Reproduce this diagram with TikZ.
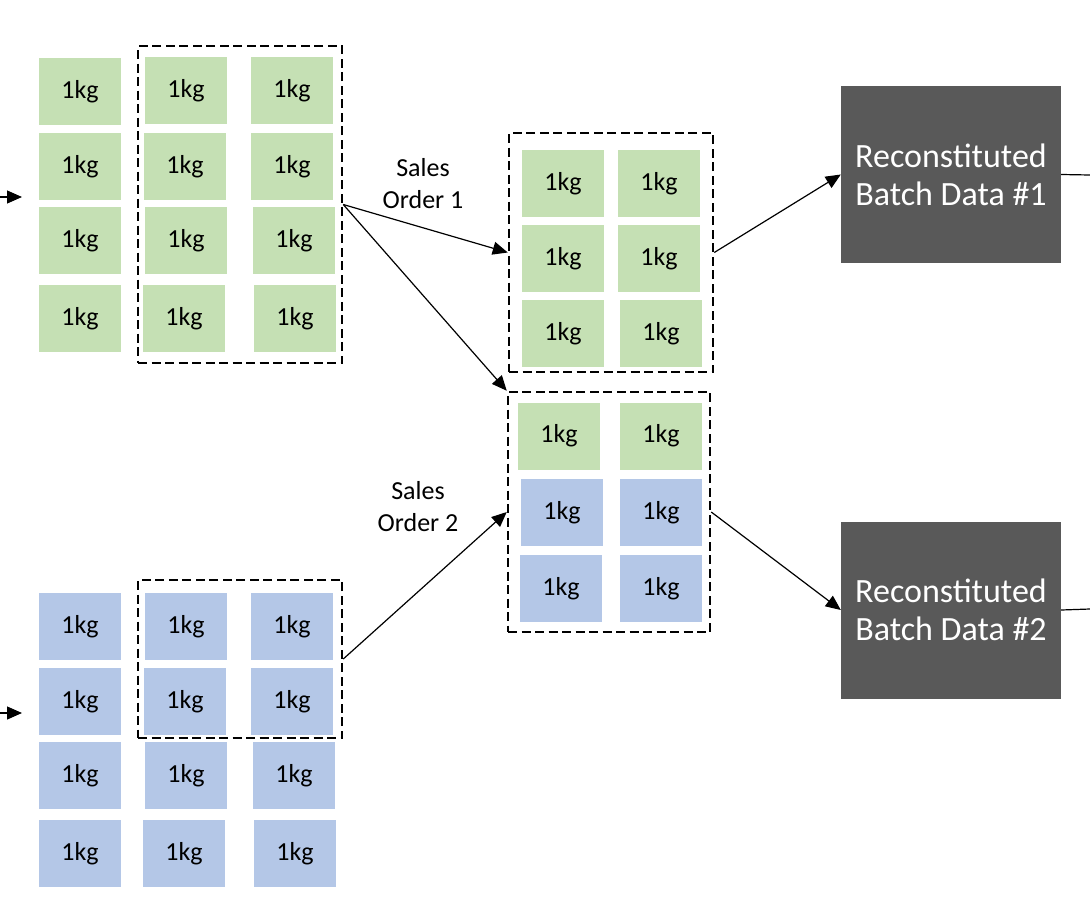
\documentclass[tikz,border=0pt]{standalone}
\usepackage{fontspec}
\setmainfont{Carlito}
\usetikzlibrary{arrows.meta}

\definecolor{kggreen}{HTML}{C5E0B4}
\definecolor{kgblue}{HTML}{B4C7E7}
\definecolor{batchgray}{HTML}{595959}

\begin{document}
\begin{tikzpicture}[
  x=1pt, y=-1pt,
  gtile/.style={rectangle, fill=kggreen, minimum width=82pt, minimum height=67pt,
                inner sep=0pt, font=\fontsize{26}{32}\selectfont},
  btile/.style={rectangle, fill=kgblue, minimum width=82pt, minimum height=67pt,
                inner sep=0pt, font=\fontsize{26}{32}\selectfont},
  lot/.style={rectangle, draw=black, line width=2.5pt, dash pattern=on 9pt off 4.5pt,
              inner sep=0pt},
  batch/.style={rectangle, fill=batchgray, text=white, minimum width=220pt,
                minimum height=177pt, align=center, font=\fontsize{34}{38}\selectfont},
  arrow/.style={-{Triangle[length=15pt,width=13pt]}, line width=1.2pt},
  lbl/.style={align=center, font=\fontsize{26}{32}\selectfont}
]
  \useasboundingbox[fill=white] (0,0) rectangle (1090,900);

  % stock on hand, green lot
  \foreach \x/\y [count=\i] in {80/91.5, 80/166.5, 80/240.5, 80/318.5,
      186/90.5, 185/166.5, 186/240.5, 184/318.5,
      292/90.5, 292/166.5, 294/240.5, 295/318.5}
    \node[gtile] (ga\i) at (\x,\y) {1kg};
  % stock on hand, blue lot
  \foreach \x/\y [count=\i] in {80/626.5, 80/701.5, 80/775.5, 80/853.5,
      186/626.5, 185/701.5, 186/775.5, 184/853.5,
      292/626.5, 292/701.5, 294/775.5, 295/853.5}
    \node[btile] (ba\i) at (\x,\y) {1kg};
  % shipped to order 1
  \foreach \x/\y [count=\i] in {563/183.5, 563/258.5, 563/333.5,
      659/183.5, 659/258.5, 661/333.5}
    \node[gtile] (gb\i) at (\x,\y) {1kg};
  % shipped to order 2
  \node[gtile] (mx1) at (559,436) {1kg};
  \node[gtile] (mx2) at (661,436) {1kg};
  \foreach \x/\y [count=\i] in {562/512.5, 661/512.5, 561/588.5, 661/588.5}
    \node[btile] (bb\i) at (\x,\y) {1kg};

  % dashed lots
  \node[lot, minimum width=204pt, minimum height=317pt] (lotA)   at (240,204.5) {};
  \node[lot, minimum width=204pt, minimum height=158pt] (lotB)   at (240,659) {};
  \node[lot, minimum width=204pt, minimum height=239pt] (order1) at (611,252.5) {};
  \node[lot, minimum width=202pt, minimum height=240pt] (order2) at (609,512) {};

  \node[batch] (batch1) at (951,174.5) {Reconstituted\\Batch Data \#1};
  \node[batch] (batch2) at (951,610) {Reconstituted\\Batch Data \#2};

  \node[lbl] (so1) at (423,184) {Sales\\Order 1};
  \node[lbl] (so2) at (418,507) {Sales\\Order 2};

  \coordinate (inA)   at (0,197);
  \coordinate (inAe)  at (22,197);
  \coordinate (inB)   at (0,713);
  \coordinate (inBe)  at (22,713);
  \coordinate (out1)  at (1090,175);
  \coordinate (out2)  at (1090,609);

  \draw[arrow] (inA) -- (inAe);
  \draw[arrow] (inB) -- (inBe);
  \draw[arrow] (lotA.east)   -- (order1.west);
  \draw[arrow] (lotA.east)   -- (order2.north west);
  \draw[arrow] (lotB.east)   -- (order2.west);
  \draw[arrow] (order1.east) -- (batch1.west);
  \draw[arrow] (order2.east) -- (batch2.west);
  \draw[line width=1.2pt] (batch1.east) -- (out1);
  \draw[line width=1.2pt] (batch2.east) -- (out2);
\end{tikzpicture}
\end{document}
